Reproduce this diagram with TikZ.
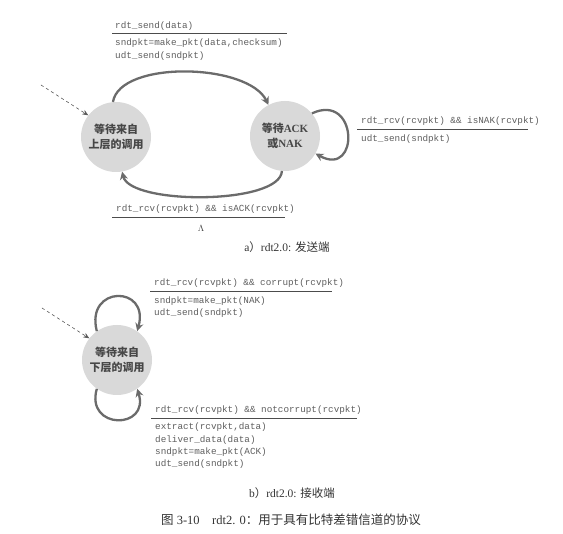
\documentclass[tikz,border=0pt]{standalone}
\usepackage{fontspec}
\setmainfont{Liberation Serif}
\setmonofont{Liberation Mono}
\newfontfamily\cjk{Noto Sans CJK SC}
\usetikzlibrary{arrows.meta}
\usetikzlibrary{positioning}
\definecolor{stategray}{HTML}{D9D9D9}
\definecolor{edgegray}{HTML}{6B6B6B}
\definecolor{textgray}{HTML}{5E5E5E}

\begin{document}
\begin{tikzpicture}
		[
		x=1pt, y=-1pt,
		font=\ttfamily\fontsize{9.3}{12.3}\selectfont,
		text=textgray
		]
		
		% Styles: states, event text, transitions
		\tikzstyle{state node}=[circle,fill=stategray,minimum size=70pt,inner sep=0,align=center,text=black!72,font=\bfseries\fontsize{11}{15.5}\selectfont];
		\tikzstyle{event text}=[inner sep=0,anchor=south west];
		\tikzstyle{action text}=[inner sep=0,anchor=north west,align=left];
		\tikzstyle{event line}=[draw=black!70,line width=0.8pt];
		\tikzstyle{trans edge}=[draw=edgegray,line width=2.3pt,-{Stealth[length=8pt,width=8pt]}];
		\tikzstyle{init edge}=[draw=black!65,dashed,line width=0.6pt,-{Stealth[length=6pt,width=5pt]}];
		\tikzstyle{caption text}=[text=black!80,font=\fontsize{11.5}{13}\selectfont];
		
		\useasboundingbox (0,0) rectangle (563,534);
		
		% The sender
		\node (upper)[state node] at (116,137) {{\cjk 等待来自}\\{\cjk 上层的调用}};
		\node (ack)[state node] at (285,136) {{\cjk 等待}ACK\\{\cjk 或}NAK};
		
		% initial state
		\coordinate (start1) at (41,85);
		\draw[init edge] (start1) -- (upper.142);
		
		% transitions
		\draw[trans edge] (upper.95) .. controls (120,60) and (248,63) .. (ack.118);
		\draw[trans edge] (ack.265) .. controls (280,205) and (130,205) .. (upper.280);
		\draw[trans edge] (ack.40) .. controls (358,92) and (360,178) .. (ack.330);
		
		% event / action labels
		\coordinate (sendL) at (112,33.3);
		\coordinate (sendR) at (287,33.3);
		\draw[event line] (sendL) -- (sendR);
		\node (sendev)[event text, above right=3pt and 3pt of sendL] {rdt\_send(data)};
		\node (sendact)[action text, below right=5.5pt and 3pt of sendL] {sndpkt=make\_pkt(data,checksum)\\udt\_send(sndpkt)};
		
		\coordinate (nakL) at (357,129);
		\coordinate (nakR) at (528,129);
		\draw[event line] (nakL) -- (nakR);
		\node (nakev)[event text, above right=3pt and 4pt of nakL] {rdt\_rcv(rcvpkt) \&\& isNAK(rcvpkt)};
		\node (nakact)[action text, below right=5.5pt and 4pt of nakL] {udt\_send(sndpkt)};
		
		\coordinate (ackL) at (112,217);
		\coordinate (ackR) at (285,217);
		\draw[event line] (ackL) -- (ackR);
		\node (ackev)[event text, above right=3pt and 4pt of ackL] {rdt\_rcv(rcvpkt) \&\& isACK(rcvpkt)};
		\node (ackact)[inner sep=0,text=black!75] at (201,228) {$\Lambda$};
		
		\node (capa)[caption text] at (287,247) {a{\cjk ）}rdt2.0: {\cjk 发送端}};
		
		% The receiver
		\node (lower)[state node] at (117,360) {{\cjk 等待来自}\\{\cjk 下层的调用}};
		
		\coordinate (start2) at (42,308);
		\draw[init edge] (start2) -- (lower.142);
		
		\draw[trans edge] (lower.125) .. controls (85,285) and (150,285) .. (lower.55);
		\draw[trans edge] (lower.235) .. controls (85,430) and (150,430) .. (lower.305);
		
		\coordinate (corL) at (150,291);
		\coordinate (corR) at (332,291);
		\draw[event line] (corL) -- (corR);
		\node (corev)[event text, above right=3pt and 4pt of corL] {rdt\_rcv(rcvpkt) \&\& corrupt(rcvpkt)};
		\node (coract)[action text, below right=5.5pt and 4pt of corL] {sndpkt=make\_pkt(NAK)\\udt\_send(sndpkt)};
		
		\coordinate (okL) at (151,418);
		\coordinate (okR) at (357,418);
		\draw[event line] (okL) -- (okR);
		\node (okev)[event text, above right=3pt and 4pt of okL] {rdt\_rcv(rcvpkt) \&\& notcorrupt(rcvpkt)};
		\node (okact)[action text, below right=5pt and 4pt of okL] {extract(rcvpkt,data)\\deliver\_data(data)\\sndpkt=make\_pkt(ACK)\\udt\_send(sndpkt)};
		
		\node (capb)[caption text] at (292,493) {b{\cjk ）}rdt2.0: {\cjk 接收端}};
		
		% Figure caption
		\node (fig)[caption text, font=\fontsize{12.5}{14}\selectfont] at (291,520) {{\cjk 图} 3-10\quad rdt2. 0{\cjk ：用于具有比特差错信道的协议}};
		
\end{tikzpicture}
\end{document}
